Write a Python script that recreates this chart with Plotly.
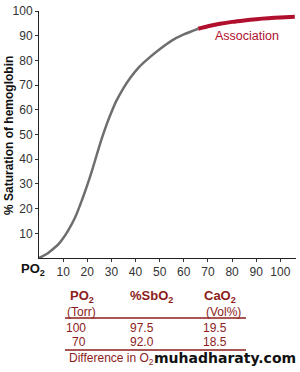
import plotly.graph_objects as go

# Oxyhemoglobin dissociation curve
po2 = [0, 3, 5, 8, 10, 12, 15, 18, 20, 22, 24, 26, 28, 30, 32, 35, 38, 41, 45, 50, 55, 60, 66]
sat = [0, 1.5, 3, 5.5, 8, 11, 16.5, 24, 29.5, 35.5, 42, 48.3, 54, 59, 63.5, 68.8, 73.2, 76.8, 80.5, 84.5, 88, 90.5, 92.8]
po2_assoc = [66, 70, 75, 80, 85, 90, 95, 100, 106]
sat_assoc = [92.8, 93.8, 94.8, 95.6, 96.2, 96.7, 97.1, 97.4, 97.7]

x_ticks = [10, 20, 30, 40, 50, 60, 70, 80, 90, 100]
y_ticks = [10, 20, 30, 40, 50, 60, 70, 80, 90, 100]

# Table
tbl_headers = ["PO<sub>2</sub>", "%SbO<sub>2</sub>", "CaO<sub>2</sub>"]
tbl_units = ["(Torr)", "", "(Vol%)"]
tbl_po2 = ["100", "70"]
tbl_sbo2 = ["97.5", "92.0"]
tbl_cao2 = ["19.5", "18.5"]
footer = "Difference in O<sub>2</sub>"
watermark = "muhadharaty.com"

W, H = 300, 372
L, R, T, B = 39, 4, 11, 114
PW = W - L - R
PH = H - T - B

def px(x):
    return (x - L) / PW

def py(y):
    return (H - B - y) / PH

RED = "#b0102e"
TRED = "#8c1c1c"
TICK = "#333333"

fig = go.Figure()
fig.add_trace(go.Scatter(x=po2, y=sat, mode="lines",
                         line=dict(color="#6e6e6e", width=2.5, shape="spline", smoothing=0.8),
                         hoverinfo="skip", showlegend=False))
fig.add_trace(go.Scatter(x=po2_assoc, y=sat_assoc, mode="lines",
                         line=dict(color=RED, width=4, shape="spline", smoothing=0.8),
                         hoverinfo="skip", showlegend=False))

ann = []
ann.append(dict(x=px(213), y=py(36), xref="paper", yref="paper", text="Association",
                showarrow=False, xanchor="left", yanchor="middle",
                font=dict(family="Liberation Sans", size=12.5, color=RED)))
ann.append(dict(x=px(9), y=py(136), xref="paper", yref="paper",
                text="% Saturation of hemoglobin", textangle=-90, showarrow=False,
                xanchor="center", yanchor="middle",
                font=dict(family="Liberation Sans", size=12, color="#111111", weight="bold")))
ann.append(dict(x=px(19), y=py(269), xref="paper", yref="paper", text="<b>PO<sub>2</sub></b>",
                showarrow=False, xanchor="left", yanchor="middle",
                font=dict(family="Liberation Sans", size=13, color="#111111")))

col_x = [68, 128, 202]
for cx, h in zip(col_x, tbl_headers):
    ann.append(dict(x=px(cx), y=py(296), xref="paper", yref="paper", text="<b>" + h + "</b>",
                    showarrow=False, xanchor="left", yanchor="middle",
                    font=dict(family="Liberation Sans", size=13, color=TRED)))
for cx, u in zip([65, 128, 204], tbl_units):
    if u:
        ann.append(dict(x=px(cx), y=py(312), xref="paper", yref="paper", text=u,
                        showarrow=False, xanchor="left", yanchor="middle",
                        font=dict(family="Liberation Sans", size=12, color=TRED)))
row_y = [328, 342]
for i, ry in enumerate(row_y):
    ann.append(dict(x=px(88), y=py(ry), xref="paper", yref="paper", text=tbl_po2[i],
                    showarrow=False, xanchor="right", yanchor="middle",
                    font=dict(family="Liberation Sans", size=12, color=TRED)))
    ann.append(dict(x=px(128), y=py(ry), xref="paper", yref="paper", text=tbl_sbo2[i],
                    showarrow=False, xanchor="left", yanchor="middle",
                    font=dict(family="Liberation Sans", size=12, color=TRED)))
    ann.append(dict(x=px(201), y=py(ry), xref="paper", yref="paper", text=tbl_cao2[i],
                    showarrow=False, xanchor="left", yanchor="middle",
                    font=dict(family="Liberation Sans", size=12, color=TRED)))
ann.append(dict(x=px(67), y=py(359), xref="paper", yref="paper", text=footer,
                showarrow=False, xanchor="left", yanchor="middle",
                font=dict(family="Liberation Sans", size=12, color=TRED)))
ann.append(dict(x=px(152), y=py(358), xref="paper", yref="paper", text="<b>" + watermark + "</b>",
                showarrow=False, xanchor="left", yanchor="middle",
                font=dict(family="DejaVu Sans", size=14, color="#111111")))

shapes = [
    dict(type="line", xref="paper", yref="paper", x0=px(65), x1=px(246), y0=py(318), y1=py(318),
         line=dict(color=TRED, width=1.5)),
    dict(type="line", xref="paper", yref="paper", x0=px(65), x1=px(246), y0=py(350), y1=py(350),
         line=dict(color=TRED, width=1.5)),
]

fig.update_layout(
    width=W, height=H,
    margin=dict(l=L, r=R, t=T, b=B),
    paper_bgcolor="white", plot_bgcolor="white",
    annotations=ann, shapes=shapes,
    showlegend=False,
)
fig.update_xaxes(range=[0, 106.5], tickvals=x_ticks, ticktext=[str(v) for v in x_ticks],
                 showgrid=False, zeroline=False, showline=True, linecolor="#222222", linewidth=1,
                 ticks="outside", ticklen=3, tickcolor=TICK,
                 tickfont=dict(family="Liberation Sans", size=12, color=TICK), fixedrange=True)
fig.update_yaxes(range=[0, 100], tickvals=y_ticks, ticktext=[str(v) for v in y_ticks],
                 showgrid=False, zeroline=False, showline=True, linecolor="#222222", linewidth=1,
                 ticks="outside", ticklen=3, tickcolor=TICK,
                 tickfont=dict(family="Liberation Sans", size=12, color=TICK), fixedrange=True)

fig.write_html("out.html", config={"displayModeBar": False})
